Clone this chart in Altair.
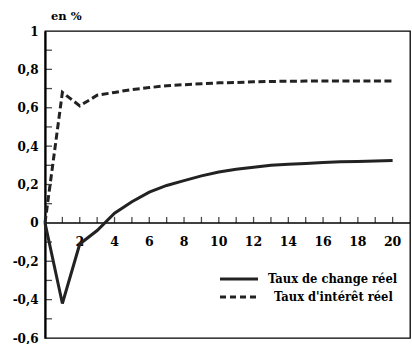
import altair as alt
import pandas as pd

periods = list(range(0, 21))
change = [0, -0.42, -0.11, -0.04, 0.05, 0.11, 0.16, 0.195, 0.22, 0.245, 0.265,
          0.28, 0.29, 0.30, 0.305, 0.31, 0.315, 0.318, 0.32, 0.323, 0.325]
interest = [0, 0.68, 0.61, 0.665, 0.68, 0.695, 0.705, 0.715, 0.72, 0.725, 0.73,
            0.732, 0.735, 0.737, 0.738, 0.739, 0.74, 0.74, 0.74, 0.74, 0.74]
y_labels = [-0.6, -0.4, -0.2, 0, 0.2, 0.4, 0.6, 0.8, 1]
y_ticks = [-0.5, -0.4, -0.3, -0.2, -0.1, 0.1, 0.2, 0.3, 0.4, 0.5, 0.6, 0.7, 0.8, 0.9]
x_ticks = list(range(1, 21))
x_labels = [2, 4, 6, 8, 10, 12, 14, 16, 18, 20]
series_names = ["Taux de change réel", "Taux d'intérêt réel"]
unit_label = "en %"

FONT = "DejaVu Serif Condensed, DejaVu Serif"
FONT2 = "DejaVu Serif"

xs = alt.Scale(domain=[0, 21], nice=False)
ys = alt.Scale(domain=[-0.6, 1], nice=False)
yaxis = alt.Axis(values=y_labels,
                 labelExpr="replace(replace(format(datum.value, '.1~f'), '.', ','), '\u2212', '-')",
                 ticks=False, grid=False, domain=True, domainWidth=2.2, domainColor="black",
                 labelFont=FONT2, labelFontWeight="bold", labelFontSize=12, labelPadding=7,
                 labelColor="black", title=None)
X = alt.X("t:Q", scale=xs, axis=None)
Y = alt.Y("v:Q", scale=ys, axis=yaxis)

df_c = pd.DataFrame({"t": periods, "v": change})
df_i = pd.DataFrame({"t": periods, "v": interest})

line_c = alt.Chart(df_c).mark_line(color="#222", strokeWidth=3).encode(x=X, y=Y)
line_i = alt.Chart(df_i).mark_line(color="#222", strokeWidth=3, strokeDash=[7, 3.5]).encode(x=X, y=Y)

zero = alt.Chart(pd.DataFrame({"v": [0]})).mark_rule(color="black", strokeWidth=1.5).encode(y=Y)

yt = alt.Chart(pd.DataFrame({"v": y_ticks, "t": [0] * len(y_ticks)})).mark_tick(
    color="black", size=7, thickness=1.3, xOffset=3.5, orient="horizontal"
).encode(y=Y, x=X)

xt = alt.Chart(pd.DataFrame({"t": x_ticks, "v": [0] * len(x_ticks)})).mark_tick(
    color="black", size=6, thickness=1.3, yOffset=-3, orient="vertical"
).encode(x=X, y=Y)

xl = alt.Chart(pd.DataFrame({"t": x_labels, "v": [0] * len(x_labels)})).mark_text(
    font=FONT2, fontWeight="bold", fontSize=12.5, dy=19, color="black"
).encode(x=X, y=Y, text=alt.Text("t:Q"))

unit = alt.Chart(pd.DataFrame({"s": [unit_label]})).mark_text(
    font=FONT2, fontWeight="bold", fontSize=11.5, align="left", color="black"
).encode(x=alt.value(6), y=alt.value(-14), text="s:N")

leg_c = alt.Chart(pd.DataFrame({"s": [series_names[0]]})).mark_rule(color="#222", strokeWidth=3).encode(
    x=alt.value(175), x2=alt.value(213), y=alt.value(248))
leg_i = alt.Chart(pd.DataFrame({"s": [series_names[1]]})).mark_rule(color="#222", strokeWidth=3, strokeDash=[6, 4]).encode(
    x=alt.value(175), x2=alt.value(213), y=alt.value(266))
leg_tc = alt.Chart(pd.DataFrame({"s": [series_names[0]]})).mark_text(
    font=FONT, fontWeight="bold", fontSize=12.8, align="left", color="black").encode(
    x=alt.value(223), y=alt.value(248), text="s:N")
leg_ti = alt.Chart(pd.DataFrame({"s": [series_names[1]]})).mark_text(
    font=FONT, fontWeight="bold", fontSize=12.8, align="left", color="black").encode(
    x=alt.value(229), y=alt.value(266), text="s:N")

chart = alt.layer(zero, yt, xt, xl, line_i, line_c, unit, leg_c, leg_i, leg_tc, leg_ti).properties(
    width=365, height=307,
    autosize=alt.AutoSizeParams(type="none"),
    padding={"left": 45, "top": 31, "right": 2, "bottom": 6},
    background="white",
).configure_view(stroke="black", strokeWidth=1.3)

chart.save("out.html", embed_options={"renderer": "svg", "actions": False})
